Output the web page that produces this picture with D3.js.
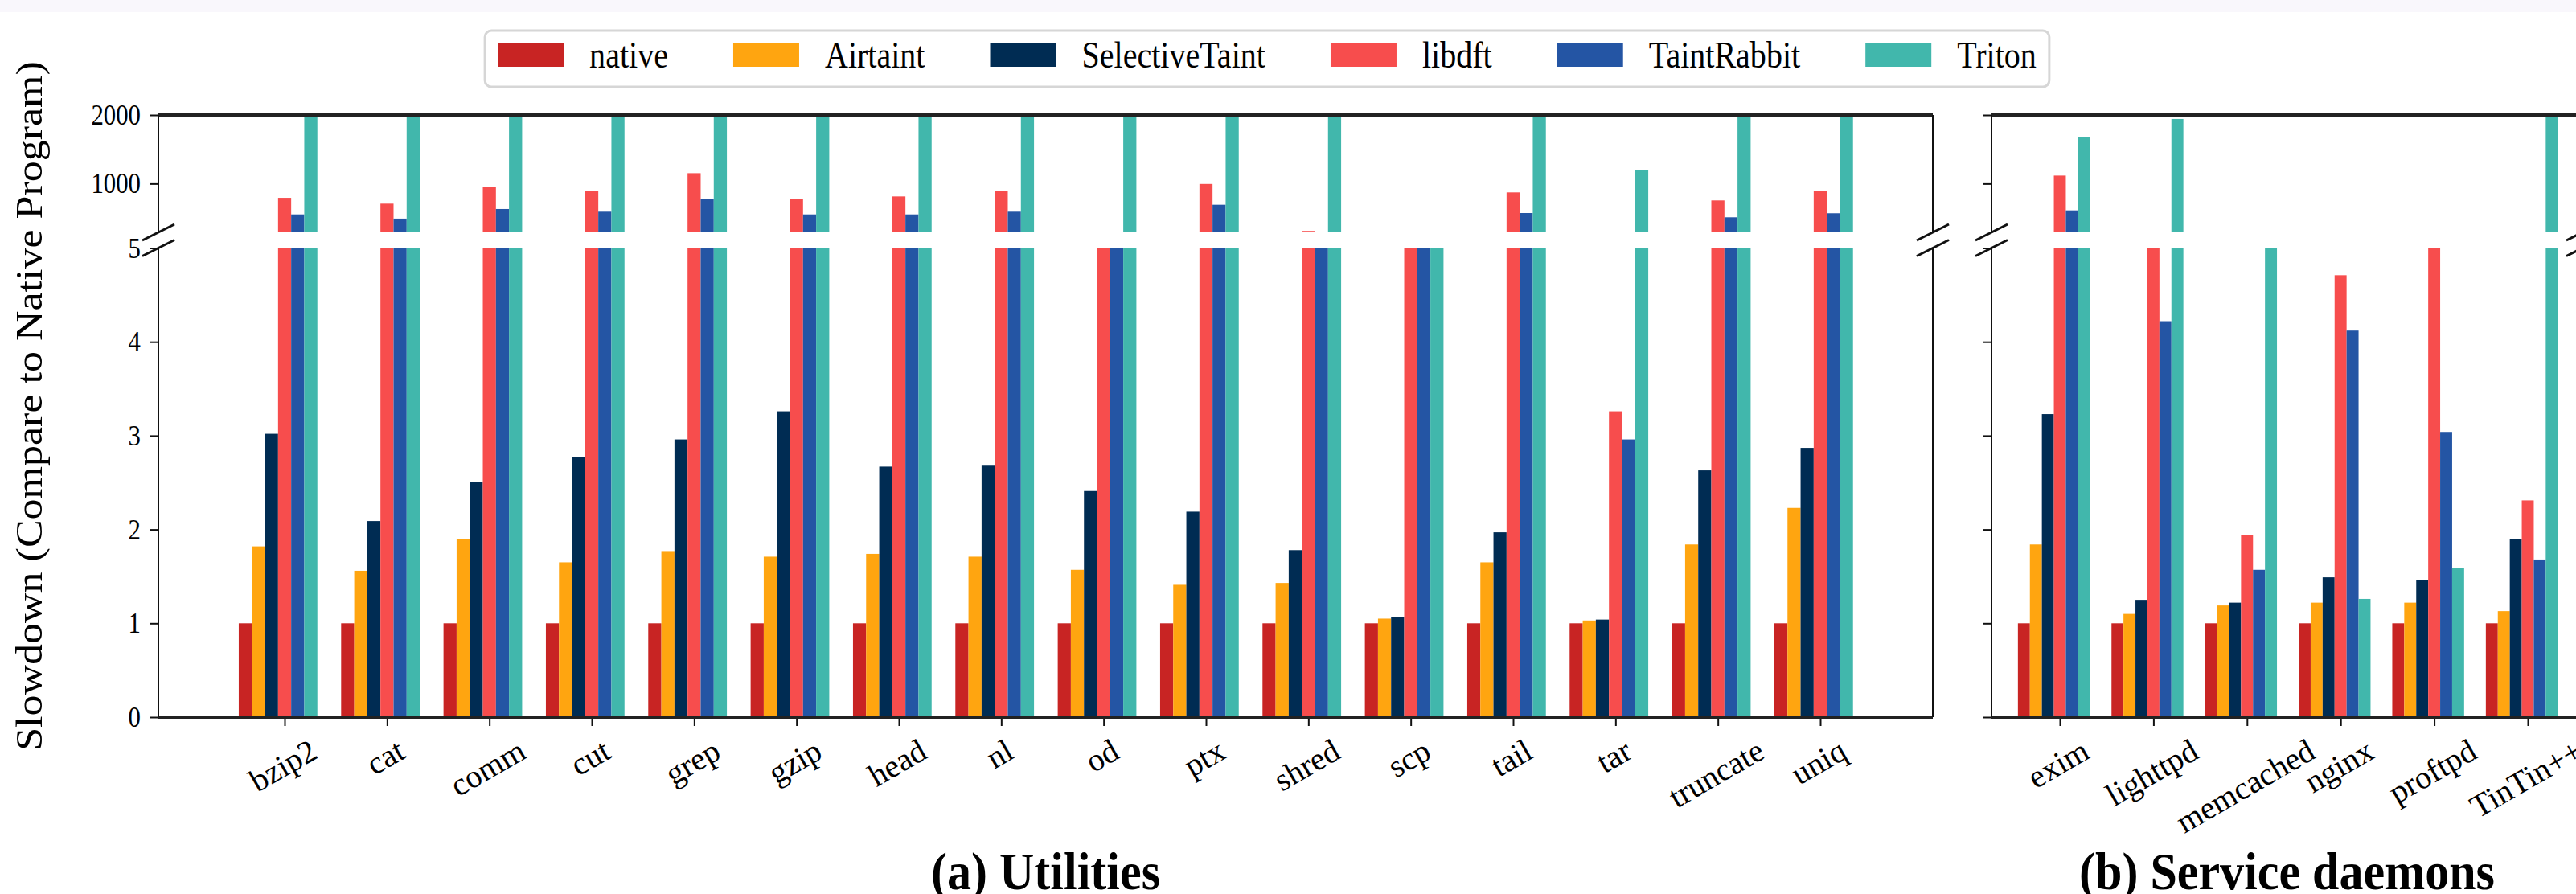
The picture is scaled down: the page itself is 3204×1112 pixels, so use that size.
<!DOCTYPE html>
<html>
<head>
<meta charset="utf-8">
<script src="https://cdn.jsdelivr.net/npm/d3@7"></script>
<style>
  body { margin: 0; background: #fff; }
  text { font-family: "Liberation Serif", "Times New Roman", serif; fill: #000; }
</style>
</head>
<body>
<svg id="chart"></svg>
<script>
// ---- data ----
var utilCats = ['bzip2', 'cat', 'comm', 'cut', 'grep', 'gzip', 'head', 'nl', 'od', 'ptx',
                'shred', 'scp', 'tail', 'tar', 'truncate', 'uniq'];
var svcCats = ['exim', 'lighttpd', 'memcached', 'nginx', 'proftpd', 'TinTin++'];

var seriesNames = ['native', 'Airtaint', 'SelectiveTaint', 'libdft', 'TaintRabbit', 'Triton'];
var seriesColors = ['#C82423', '#FFA510', '#002C53', '#F74D4D', '#2455A4', '#41B7AC'];

// utilities
var nativeUtil    = [1, 1, 1, 1, 1, 1, 1, 1, 1, 1, 1, 1, 1, 1, 1, 1];
var airtaintUtil  = [1.82, 1.56, 1.90, 1.65, 1.77, 1.71, 1.74, 1.71, 1.57, 1.41, 1.43, 1.05, 1.65, 1.03, 1.84, 2.23];
var selectiveUtil = [3.02, 2.09, 2.51, 2.77, 2.96, 3.26, 2.67, 2.68, 2.41, 2.19, 1.78, 1.07, 1.97, 1.04, 2.63, 2.87];
var libdftUtil    = [793, 708, 953, 895, 1152, 773, 813, 895, 140, 995, 311, 160, 872, 3.26, 755, 895];
var rabbitUtil    = [551, 490, 630, 591, 773, 551, 551, 591, 95, 692, 120, 130, 571, 2.96, 509, 568];
var tritonUtil    = [2600, 2600, 2600, 2600, 2600, 2600, 2600, 2600, 2600, 2600, 2600, 210, 2600, 1199, 2600, 2600];

// service daemons
var nativeSvc    = [1, 1, 1, 1, 1, 1];
var airtaintSvc  = [1.84, 1.10, 1.19, 1.22, 1.22, 1.13];
var selectiveSvc = [3.23, 1.25, 1.22, 1.49, 1.46, 1.90];
var libdftSvc    = [1117, 180, 1.94, 4.71, 150, 2.31];
var rabbitSvc    = [610, 4.22, 1.57, 4.12, 3.04, 1.68];
var tritonSvc    = [1678, 1942, 110, 1.26, 1.59, 2600];

var lowTicks = [0, 1, 2, 3, 4, 5];
var highTicks = [1000, 2000];

// ---- layout ----
var W = 3204, H = 1112;
var SX = 0.88; // legend / axis text is a bit narrow in the figure

var svg = d3.select('#chart').attr('width', W).attr('height', H);
var defs = svg.append('defs');

svg.append('rect').attr('width', W).attr('height', 15).attr('fill', '#f9f7fc');

var yLow = d3.scaleLinear().domain([0, 5]).range([892, 308.5]);
var yHigh = d3.scaleLinear().domain([290, 2000]).range([289, 143]);

var panels = [
  { cats: utilCats, left: 197, right: 2404, showLabels: true, title: '(a) Utilities',
    data: [nativeUtil, airtaintUtil, selectiveUtil, libdftUtil, rabbitUtil, tritonUtil],
    x: d3.scaleLinear().domain([0, utilCats.length - 1]).range([354, 2264]) },
  { cats: svcCats, left: 2477, right: 3212, showLabels: false, title: '(b) Service daemons',
    data: [nativeSvc, airtaintSvc, selectiveSvc, libdftSvc, rabbitSvc, tritonSvc],
    x: d3.scaleLinear().domain([0, svcCats.length - 1]).range([2562, 3144]) }
];

function squeeze(x, y, rot, sx) {
  return 'translate(' + x + ',' + y + ') scale(' + (sx || SX) + ',1)' + (rot ? ' rotate(' + rot + ')' : '');
}

panels.forEach(function (p, pi) {
  var step = p.x(1) - p.x(0);
  var bw = step * 0.128;
  var idx = d3.range(p.cats.length);

  defs.append('clipPath').attr('id', 'low' + pi).append('rect')
    .attr('x', p.left).attr('y', yLow(5)).attr('width', p.right - p.left).attr('height', yLow(0) - yLow(5));
  defs.append('clipPath').attr('id', 'high' + pi).append('rect')
    .attr('x', p.left).attr('y', yHigh(2000)).attr('width', p.right - p.left).attr('height', yHigh(290) - yHigh(2000));

  var gLow = svg.append('g').attr('clip-path', 'url(#low' + pi + ')');
  var gHigh = svg.append('g').attr('clip-path', 'url(#high' + pi + ')');

  p.data.forEach(function (vals, s) {
    gLow.selectAll('rect.s' + s)
      .data(vals)
      .enter()
      .append('rect')
      .attr('class', 's' + s)
      .attr('x', function (d, i) { return p.x(i) + (s - 3.5) * bw; })
      .attr('width', bw)
      .attr('y', function (d) { return yLow(Math.min(d, 5.5)); })
      .attr('height', function (d) { return yLow(0) - yLow(Math.min(d, 5.5)); })
      .attr('fill', seriesColors[s]);

    gHigh.selectAll('rect.s' + s)
      .data(vals.map(function (d, i) { return { v: d, i: i }; }).filter(function (d) { return d.v > 290; }))
      .enter()
      .append('rect')
      .attr('class', 's' + s)
      .attr('x', function (d) { return p.x(d.i) + (s - 3.5) * bw; })
      .attr('width', bw)
      .attr('y', function (d) { return yHigh(Math.min(d.v, 2100)); })
      .attr('height', function (d) { return yHigh(290) - yHigh(Math.min(d.v, 2100)); })
      .attr('fill', seriesColors[s]);
  });

  // y axes
  var axLow = svg.append('g').attr('transform', 'translate(' + p.left + ',0)')
    .call(d3.axisLeft(yLow).tickValues(lowTicks).tickSize(11).tickFormat(p.showLabels ? d3.format('d') : ''));
  var axHigh = svg.append('g').attr('transform', 'translate(' + p.left + ',0)')
    .call(d3.axisLeft(yHigh).tickValues(highTicks).tickSize(11).tickFormat(p.showLabels ? d3.format('d') : ''));
  [axLow, axHigh].forEach(function (ax) {
    ax.select('.domain').remove();
    ax.selectAll('line').attr('stroke', '#111').attr('stroke-width', 2);
    ax.selectAll('text')
      .attr('x', null).attr('dy', '0.33em')
      .attr('transform', 'translate(-22,0) scale(' + SX + ',1)')
      .attr('text-anchor', 'end')
      .style('font-size', '35px')
      .style('font-family', '"Liberation Serif", serif');
  });

  // x axis
  var axX = svg.append('g').attr('transform', 'translate(0,' + yLow(0) + ')')
    .call(d3.axisBottom(p.x).tickValues(idx).tickSize(11).tickFormat(''));
  axX.select('.domain').remove();
  axX.selectAll('line').attr('stroke', '#111').attr('stroke-width', 2);

  // rotated labels, bbox centred on tick, top at fixed y
  var fs = 40;
  svg.append('g').selectAll('text')
    .data(p.cats)
    .enter()
    .append('text')
    .text(function (d) { return d; })
    .style('font-size', fs + 'px')
    .attr('text-anchor', 'middle')
    .attr('dy', '0.233em')
    .attr('transform', function (d, i) {
      var L = this.getComputedTextLength();
      var hv = L * 0.5 + 0.9 * fs * 0.866;
      return squeeze(p.x(i), 918 + hv / 2, -30, 1);
    });

  // spines
  var sp = svg.append('g').attr('stroke', '#111').attr('fill', 'none');
  sp.append('line').attr('x1', p.left).attr('x2', p.right).attr('y1', yLow(0)).attr('y2', yLow(0)).attr('stroke-width', 4).attr('stroke', '#222');
  sp.append('line').attr('x1', p.left).attr('x2', p.right).attr('y1', yHigh(2000)).attr('y2', yHigh(2000)).attr('stroke-width', 4).attr('stroke', '#222');
  [p.left, p.right].forEach(function (sx) {
    sp.append('line').attr('x1', sx).attr('x2', sx).attr('y1', yLow(5)).attr('y2', yLow(0)).attr('stroke-width', 2);
    sp.append('line').attr('x1', sx).attr('x2', sx).attr('y1', yHigh(2000)).attr('y2', yHigh(290)).attr('stroke-width', 2);
    [yHigh(290), yLow(5)].forEach(function (by) {
      sp.append('line').attr('x1', sx - 20).attr('x2', sx + 20).attr('y1', by + 10).attr('y2', by - 10).attr('stroke-width', 3);
    });
  });

  // panel title
  svg.append('text')
    .text(p.title)
    .attr('text-anchor', 'middle')
    .style('font-size', '66px')
    .style('font-weight', 'bold')
    .attr('transform', squeeze((p.left + p.right) / 2, 1106, 0, 0.91));
});

// y label
svg.append('text')
  .text('Slowdown (Compare to Native Program)')
  .attr('text-anchor', 'middle')
  .attr('dy', '0.3em')
  .style('font-size', '52px')
  .attr('transform', squeeze(38, 505, -90));

// legend
var patchW = 82, patchH = 29, textGap = 32, colGap = 81, lgPad = 16;
var legend = svg.append('g');
var box = legend.append('rect');
var items = legend.selectAll('g.item')
  .data(seriesNames)
  .enter()
  .append('g')
  .attr('class', 'item');
items.append('rect')
  .attr('width', patchW).attr('height', patchH).attr('y', 54)
  .attr('fill', function (d, i) { return seriesColors[i]; });
items.append('text')
  .text(function (d) { return d; })
  .style('font-size', '45.5px');
var cursor = 0;
items.each(function () {
  var g = d3.select(this);
  var tw = g.select('text').node().getComputedTextLength() * SX;
  g.select('rect').attr('x', cursor);
  g.select('text').attr('transform', squeeze(cursor + patchW + textGap, 84));
  cursor += patchW + textGap + tw + colGap;
});
var totalW = cursor - colGap + 2 * lgPad;
var lgLeft = 1576 - totalW / 2;
items.attr('transform', 'translate(' + (lgLeft + lgPad) + ',0)');
box.attr('x', lgLeft).attr('y', 38).attr('width', totalW).attr('height', 70)
  .attr('rx', 8).attr('fill', '#fff').attr('stroke', '#d6d6d6').attr('stroke-width', 3);
</script>
</body>
</html>
